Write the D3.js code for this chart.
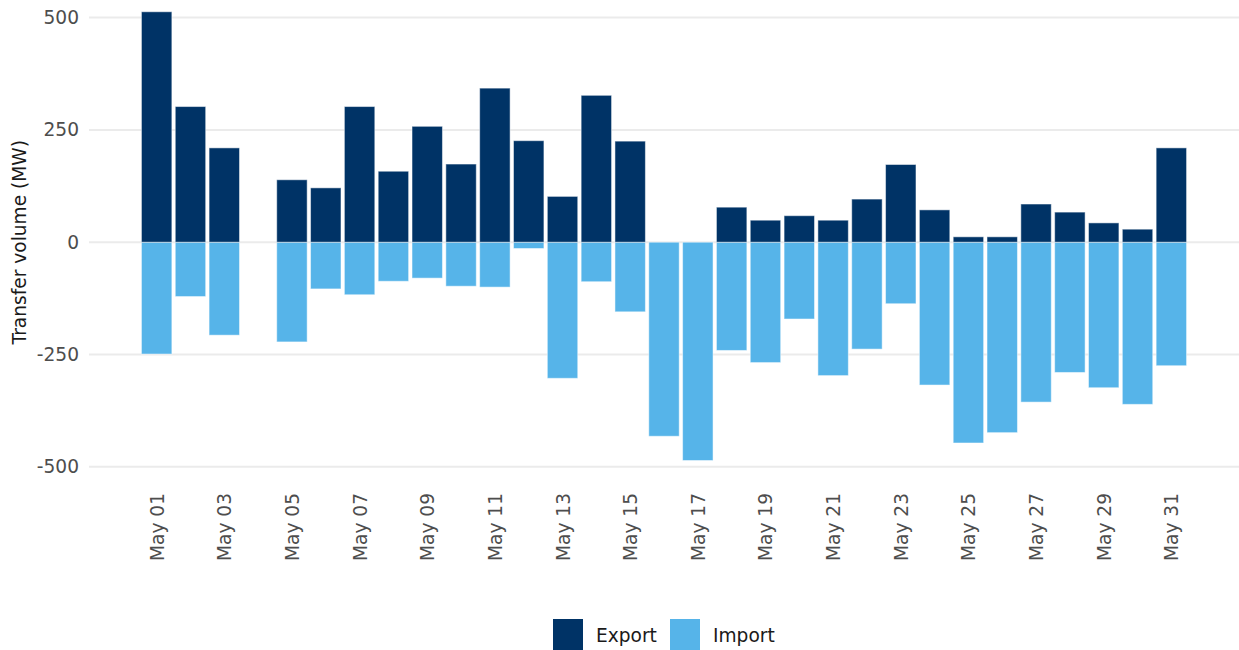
<!DOCTYPE html>
<html>
<head>
<meta charset="utf-8">
<script src="https://cdn.jsdelivr.net/npm/d3@7"></script>
<style>
  html, body { margin: 0; padding: 0; background: #ffffff; }
  svg { display: block; font-family: "DejaVu Sans", sans-serif; }
</style>
</head>
<body>
<svg id="chart" width="1239" height="650"></svg>
<script>
// Daily cross-border transfer volumes, May (MW). Import values are negative.
const days = [1, 2, 3, 5, 6, 7, 8, 9, 10, 11, 12, 13, 14, 15, 16, 17, 18, 19, 20, 21, 22, 23, 24, 25, 26, 27, 28, 29, 30, 31];
const exportVals = [513, 302, 210, 139, 121, 302, 158, 258, 174, 343, 226, 102, 327, 225, 0, 0, 78, 49, 59, 49, 96, 173, 72, 12, 12, 85, 67, 43, 29, 210];
const importVals = [-249, -121, -207, -222, -104, -117, -87, -80, -98, -100, -14, -303, -88, -155, -432, -486, -241, -268, -171, -297, -238, -137, -318, -447, -424, -356, -290, -324, -361, -275];
const yTicks = [-500, -250, 0, 250, 500];
const xTickDays = [1, 3, 5, 7, 9, 11, 13, 15, 17, 19, 21, 23, 25, 27, 29, 31];
const seriesNames = ["Export", "Import"];
const seriesColors = ["#003366", "#56B4E9"];

const FONT_SIZE = "18.6px";

const svg = d3.select("#chart");
const plot = { left: 89, right: 1239, top: 0, bottom: 480 };

const x = d3.scaleLinear().domain([-1, 33]).range([plot.left, plot.right]);
const y = d3.scaleLinear().domain([-500, 500]).range([466.8, 17.6]);
const barW = (x(1) - x(0)) * 0.9;

const fmtDay = d => "May " + String(d).padStart(2, "0");

// horizontal grid lines
svg.append("g")
  .selectAll("line")
  .data(yTicks)
  .join("line")
  .attr("x1", plot.left).attr("x2", plot.right)
  .attr("y1", d => y(d)).attr("y2", d => y(d))
  .attr("stroke", "#ebebeb")
  .attr("stroke-width", 2);

// y axis labels (plain hyphen for negatives)
const yAxis = d3.axisLeft(y).tickValues(yTicks).tickSize(0).tickPadding(0).tickFormat(d => String(d));
svg.append("g")
  .attr("transform", `translate(${plot.left - 10},0)`)
  .call(yAxis)
  .call(g => g.select(".domain").remove())
  .call(g => g.selectAll("text")
    .attr("fill", "#4d4d4d")
    .style("font-size", FONT_SIZE)
    .style("font-family", "DejaVu Sans, sans-serif"));

// x axis labels (rotated)
const xAxis = d3.axisBottom(x).tickValues(xTickDays).tickSize(0).tickPadding(0).tickFormat(fmtDay);
svg.append("g")
  .attr("transform", `translate(0,${plot.bottom})`)
  .call(xAxis)
  .call(g => g.select(".domain").remove())
  .call(g => g.selectAll("text")
    .attr("fill", "#4d4d4d")
    .style("font-size", FONT_SIZE)
    .style("font-family", "DejaVu Sans, sans-serif")
    .attr("text-anchor", "end")
    .attr("dy", "0.35em")
    .attr("transform", "translate(0,13) rotate(-90)"));

// y axis title
svg.append("text")
  .attr("transform", `translate(26,${y(0)}) rotate(-90)`)
  .attr("text-anchor", "middle")
  .attr("fill", "#1a1a1a")
  .style("font-size", FONT_SIZE)
  .text("Transfer volume (MW)");

// bars
const rows = days.map((d, i) => ({ day: d, exp: exportVals[i], imp: importVals[i] }));

svg.append("g")
  .selectAll("rect")
  .data(rows.filter(r => r.imp !== 0))
  .join("rect")
  .attr("x", r => x(r.day) - barW / 2)
  .attr("width", barW)
  .attr("y", y(0))
  .attr("height", r => y(r.imp) - y(0))
  .attr("fill", seriesColors[1])
  .attr("stroke", "rgba(255,255,255,0.5)")
  .attr("stroke-width", 1);

svg.append("g")
  .selectAll("rect")
  .data(rows.filter(r => r.exp !== 0))
  .join("rect")
  .attr("x", r => x(r.day) - barW / 2)
  .attr("width", barW)
  .attr("y", r => y(r.exp))
  .attr("height", r => y(0) - y(r.exp))
  .attr("fill", seriesColors[0])
  .attr("stroke", "rgba(255,255,255,0.5)")
  .attr("stroke-width", 1);

// legend
const legendX = [553, 670];
const legend = svg.append("g")
  .selectAll("g")
  .data(seriesNames)
  .join("g")
  .attr("transform", (d, i) => `translate(${legendX[i]},619)`);
legend.append("rect")
  .attr("width", 30).attr("height", 31)
  .attr("fill", (d, i) => seriesColors[i]);
legend.append("text")
  .attr("x", 43).attr("y", 23)
  .attr("fill", "#1a1a1a")
  .style("font-size", FONT_SIZE)
  .text(d => d);
</script>
</body>
</html>
